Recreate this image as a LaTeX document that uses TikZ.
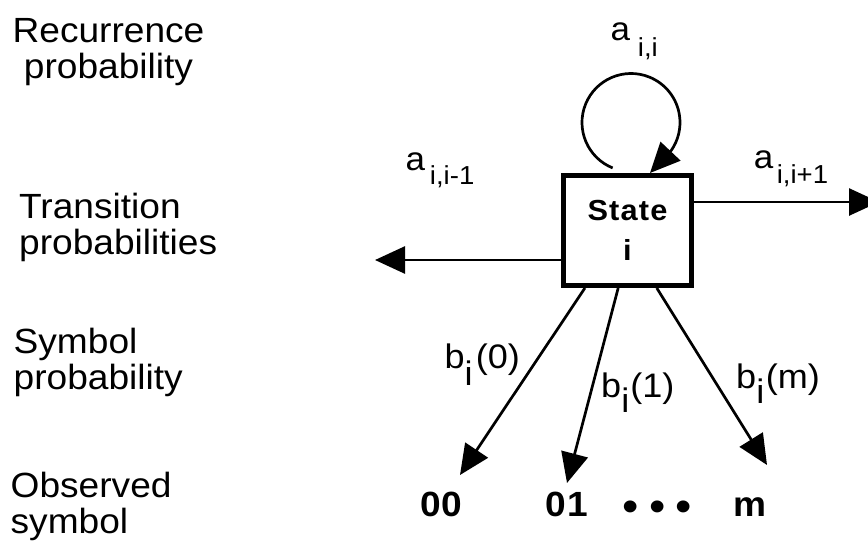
\documentclass[tikz,border=0pt]{standalone}
\usepackage{fontspec}
\setmainfont[FakeStretch=1.06]{Liberation Sans}
\newfontfamily\boldsp[FakeStretch=1.06,LetterSpace=4]{Liberation Sans}
\newfontfamily\boldtx[FakeStretch=1.06,LetterSpace=2]{Liberation Sans}
\usetikzlibrary{arrows.meta,calc}
\newcommand{\subtx}[2]{\raisebox{-#1}{\fontsize{26}{30}\selectfont #2}}
\begin{document}
\begin{tikzpicture}[x=1pt,y=-1pt,
  lab/.style={inner sep=0pt, anchor=base west},
  sidelab/.style={lab, font=\fontsize{35}{36.5}\selectfont},
  translab/.style={lab, font=\fontsize{33}{36}\selectfont},
  symlab/.style={lab, font=\fontsize{34}{36}\selectfont},
  obslab/.style={lab, font=\boldtx\bfseries\fontsize{35}{36}\selectfont},
  dotlab/.style={lab, font=\fontsize{44}{48}\selectfont},
  arr/.style={line width=2.7pt, -{Triangle[length=30pt,width=27pt]}},
  statebox/.style={draw, line width=4.7pt, minimum width=128.3pt, minimum height=110.3pt,
    align=center, inner sep=0pt, font=\boldsp\bfseries\fontsize{29}{40}\selectfont}
]
\clip (0,0) rectangle (868,542);

% left column labels
\node[sidelab, anchor=base] (rec) at (108.5,42) {\begin{tabular}[t]{@{}c@{}}Recurrence\\probability\end{tabular}};
\node[sidelab] (tra) at (19,218) {\begin{tabular}[t]{@{}l@{}}Transition\\probabilities\end{tabular}};
\node[sidelab] (symb) at (13.5,353) {\begin{tabular}[t]{@{}l@{}}Symbol\\probability\end{tabular}};
\node[sidelab] (obsv) at (10.5,497) {\begin{tabular}[t]{@{}l@{}}Observed\\symbol\end{tabular}};

% state
\node[statebox] (box) at (627.5,230.5) {State\\i};

% self loop
\coordinate (loopc) at (631,122.5);
\draw[arr] ($(loopc)+(112:49)$) arc[start angle=112, end angle=395, radius=49] -- ($(box.north)+(22.5,0)$);

% transitions
\coordinate (lt) at (375,260);
\coordinate (rt) at (879,202);
\draw[arr] (box.west |- lt) -- (lt);
\draw[arr] (box.east |- rt) -- (rt);

% emissions
\coordinate (t0) at (460,475);
\coordinate (t1) at (567,483);
\coordinate (tm) at (767,465);
\draw[arr] ($(box.south west)!0.18!(box.south east)$) -- (t0);
\draw[arr] ($(box.south west)!0.43!(box.south east)$) -- (t1);
\draw[arr] ($(box.south west)!0.72!(box.south east)$) -- (tm);

% transition labels
\node[translab] (aii) at (610.3,40) {a\hspace{8pt}\subtx{16pt}{i,i}};
\node[translab] (aim) at (405.3,170) {a\hspace{5pt}\subtx{14pt}{i,i-1}};
\node[translab] (aip) at (753.6,168) {a\hspace{3.5pt}\subtx{15pt}{i,i+1}};

% symbol labels
\node[symlab] (b0) at (444.5,368) {b\raisebox{-17pt}{i}\hspace{3pt}(0)};
\node[symlab] (b1) at (601,397) {b\raisebox{-15pt}{i}\hspace{1pt}(1)};
\node[symlab] (bm) at (736,388) {b\raisebox{-15pt}{i}\hspace{1.5pt}(m)};

% observed symbols
\node[obslab] (o0) at (420,516) {00};
\node[obslab] (o1) at (545.5,516) {01};
\node[dotlab] (dots) at (622.5,521) {•\hspace{10pt}•\hspace{10pt}•};
\node[obslab] (om) at (733.5,516) {m};
\end{tikzpicture}
\end{document}
